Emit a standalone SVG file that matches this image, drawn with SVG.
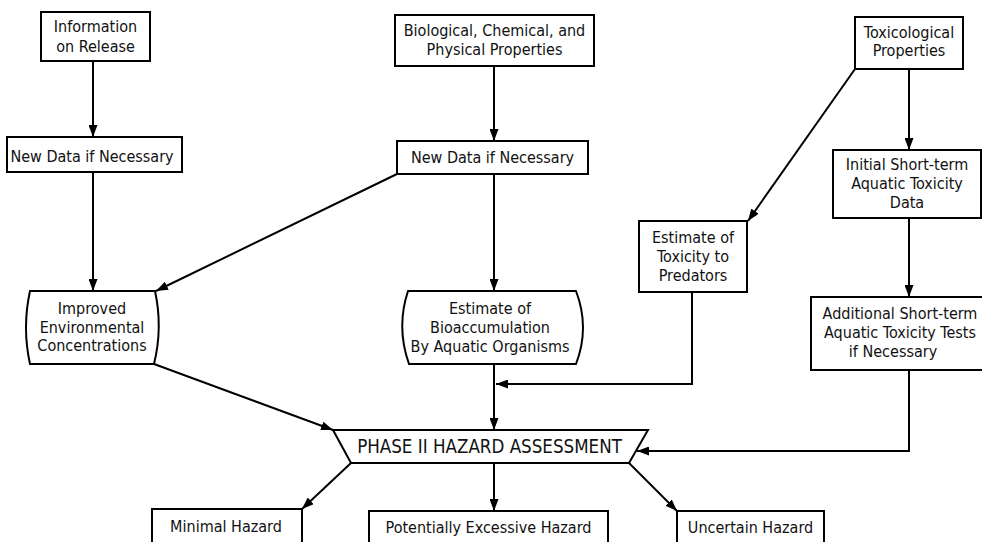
<svg xmlns="http://www.w3.org/2000/svg" width="982" height="542" viewBox="0 0 982 542">
<defs>
<style>
.box{fill:#fff;stroke:#000;stroke-width:2}
.t{font-family:"DejaVu Sans Condensed","DejaVu Sans",sans-serif;font-size:16px;fill:#111;text-anchor:middle}
.big{font-size:18.6px}
.c{fill:none;stroke:#000;stroke-width:2}
</style>
<marker id="ah" markerUnits="userSpaceOnUse" markerWidth="13" markerHeight="9" refX="12" refY="4.5" orient="auto">
<path d="M0,0 L12,4.5 L0,9 z" fill="#000"/>
</marker>
</defs>
<rect width="982" height="542" fill="#fff"/>
<g id="connectors">
<path class="c" d="M93,61 V137" marker-end="url(#ah)"/>
<path class="c" d="M93,172 V291" marker-end="url(#ah)"/>
<path class="c" d="M494,66 V141" marker-end="url(#ah)"/>
<path class="c" d="M494,174 V291" marker-end="url(#ah)"/>
<path class="c" d="M397,174 L156,291" marker-end="url(#ah)"/>
<path class="c" d="M909,69 V150" marker-end="url(#ah)"/>
<path class="c" d="M855,69 L748,221" marker-end="url(#ah)"/>
<path class="c" d="M909,218 V297" marker-end="url(#ah)"/>
<path class="c" d="M692,292 V384 H496" marker-end="url(#ah)"/>
<path class="c" d="M494,364 V430" marker-end="url(#ah)"/>
<path class="c" d="M154,364 L333,430" marker-end="url(#ah)"/>
<path class="c" d="M909,370 V451 H637" marker-end="url(#ah)"/>
<path class="c" d="M351,463 L302,509" marker-end="url(#ah)"/>
<path class="c" d="M494,463 V511" marker-end="url(#ah)"/>
<path class="c" d="M629,463 L677,511" marker-end="url(#ah)"/>
</g>
<g id="info-release">
<rect class="box" x="41" y="12" width="109" height="49"/>
<text class="t" x="95.5" y="32">Information</text>
<text class="t" x="95.5" y="52">on Release</text>
</g>
<g id="new-data-1">
<rect class="box" x="7" y="137" width="175" height="35"/>
<text class="t" x="92" y="162">New Data if Necessary</text>
</g>
<g id="bcp-properties">
<rect class="box" x="395" y="15" width="199" height="51"/>
<text class="t" x="494.5" y="36">Biological, Chemical, and</text>
<text class="t" x="494.5" y="55">Physical Properties</text>
</g>
<g id="new-data-2">
<rect class="box" x="397" y="141" width="191" height="33"/>
<text class="t" x="492.5" y="163">New Data if Necessary</text>
</g>
<g id="tox-properties">
<rect class="box" x="855" y="17" width="108" height="52"/>
<text class="t" x="909" y="38">Toxicological</text>
<text class="t" x="909" y="56">Properties</text>
</g>
<g id="initial-short-term">
<rect class="box" x="833" y="150" width="148" height="68"/>
<text class="t" x="907" y="170">Initial Short-term</text>
<text class="t" x="907" y="189">Aquatic Toxicity</text>
<text class="t" x="907" y="208">Data</text>
</g>
<g id="tox-predators">
<rect class="box" x="639" y="221" width="108" height="71"/>
<text class="t" x="693" y="243">Estimate of</text>
<text class="t" x="693" y="262">Toxicity to</text>
<text class="t" x="693" y="281">Predators</text>
</g>
<g id="additional-short-term">
<rect class="box" x="811" y="297" width="185" height="73"/>
<text class="t" x="900" y="319">Additional Short-term</text>
<text class="t" x="900" y="338">Aquatic Toxicity Tests</text>
<text class="t" x="893" y="357">if Necessary</text>
</g>
<g id="improved-env">
<path class="box" d="M30,291 H155 Q163,327.5 154,364 H30 Q22,327.5 30,291 Z"/>
<text class="t" x="92" y="314">Improved</text>
<text class="t" x="92" y="333">Environmental</text>
<text class="t" x="92" y="351">Concentrations</text>
</g>
<g id="bioaccumulation">
<path class="box" d="M408,291 H576 Q590,327.5 576,364 H409 Q396,327.5 408,291 Z"/>
<text class="t" x="490" y="314">Estimate of</text>
<text class="t" x="490" y="333">Bioaccumulation</text>
<text class="t" x="490" y="352">By Aquatic Organisms</text>
</g>
<g id="phase-ii">
<path class="box" d="M333,430 H648 L629,463 H351 Z"/>
<text class="t big" x="489.5" y="452.5">PHASE II HAZARD ASSESSMENT</text>
</g>
<g id="minimal-hazard">
<rect class="box" x="152" y="509" width="150" height="40"/>
<text class="t" x="226" y="532">Minimal Hazard</text>
</g>
<g id="potentially-excessive">
<rect class="box" x="369" y="511" width="239" height="40"/>
<text class="t" x="488.5" y="533">Potentially Excessive Hazard</text>
</g>
<g id="uncertain-hazard">
<rect class="box" x="677" y="511" width="147" height="40"/>
<text class="t" x="750.5" y="533">Uncertain Hazard</text>
</g>
</svg>
